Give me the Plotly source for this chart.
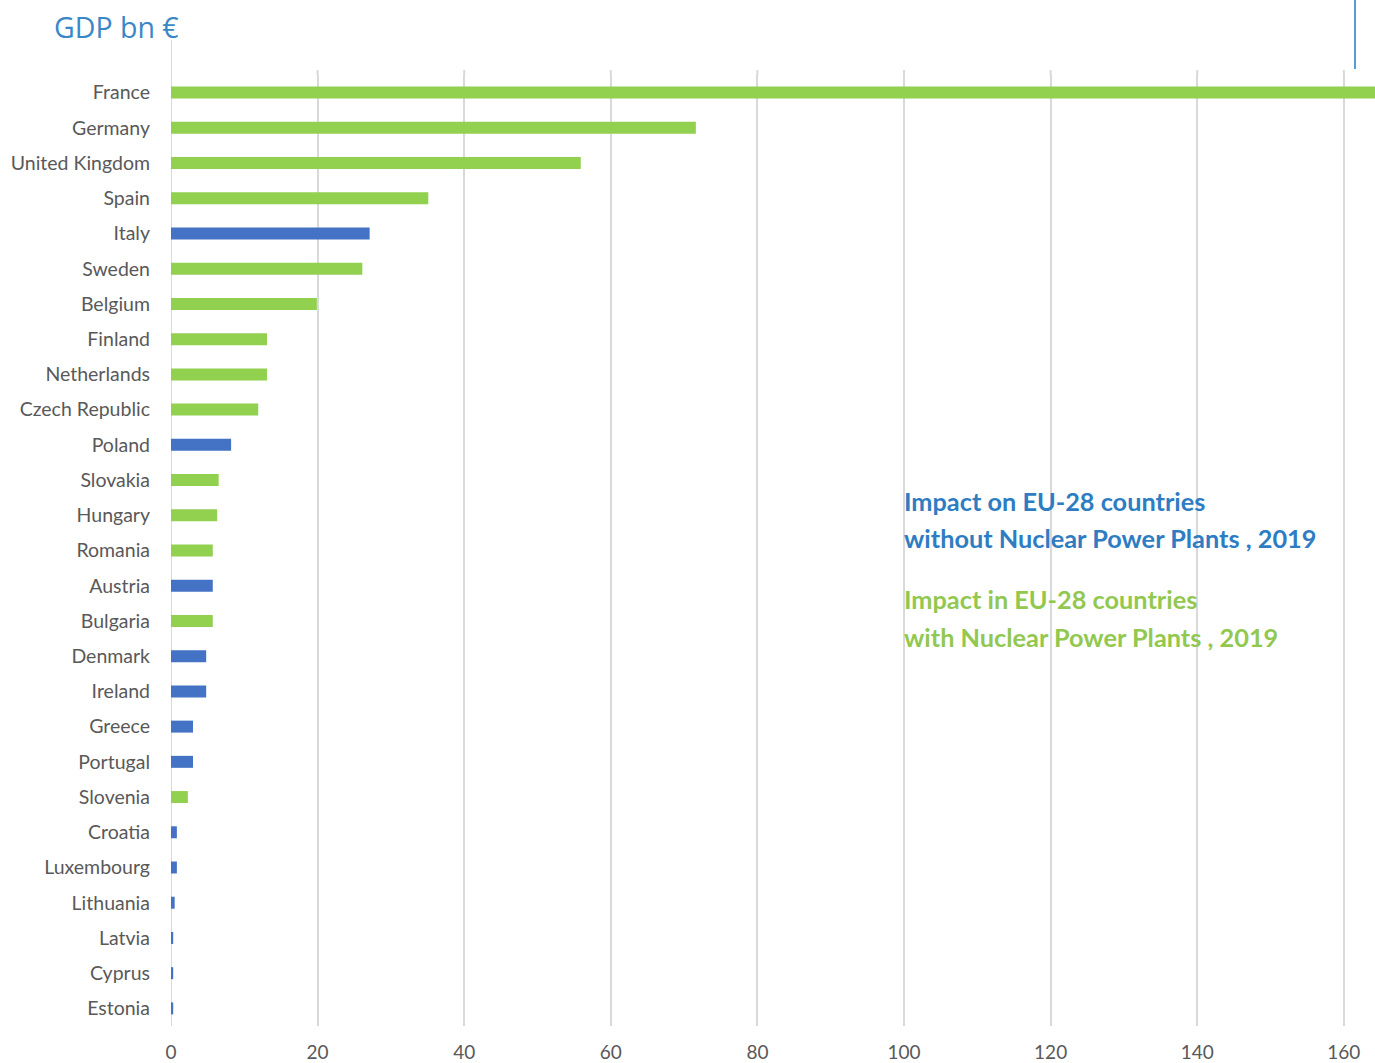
import plotly.graph_objects as go

countries = ["France", "Germany", "United Kingdom", "Spain", "Italy", "Sweden", "Belgium",
             "Finland", "Netherlands", "Czech Republic", "Poland", "Slovakia", "Hungary",
             "Romania", "Austria", "Bulgaria", "Denmark", "Ireland", "Greece", "Portugal",
             "Slovenia", "Croatia", "Luxembourg", "Lithuania", "Latvia", "Cyprus", "Estonia"]
gdp_bn_eur = [170.0, 71.6, 55.9, 35.1, 27.1, 26.1, 19.9, 13.1, 13.1, 11.9, 8.2, 6.5, 6.3,
              5.7, 5.7, 5.7, 4.8, 4.8, 3.0, 3.0, 2.3, 0.8, 0.8, 0.5, 0.3, 0.3, 0.3]
has_nuclear = [True, True, True, True, False, True, True, True, True, True, False, True, True,
               True, False, True, False, False, False, False, True, False, False, False,
               False, False, False]
x_ticks = [0, 20, 40, 60, 80, 100, 120, 140, 160]

GREEN = "#92d050"
BLUE = "#4472c4"
colors = [GREEN if n else BLUE for n in has_nuclear]

fig = go.Figure(go.Bar(
    x=gdp_bn_eur, y=countries, orientation="h",
    marker=dict(color=colors, line=dict(width=0)),
    hoverinfo="x+y", showlegend=False,
))

W, H = 1375, 1063
PL, PT, PR, PB = 171, 75, 1375, 1026  # plot area in pixels
pw, ph = PR - PL, PB - PT


def px(sx):
    return (sx - PL) / pw


def py(sy):
    return (PB - sy) / ph


fig.update_layout(
    width=W, height=H,
    margin=dict(l=PL, r=W - PR, t=PT, b=H - PB, pad=0, autoexpand=False),
    plot_bgcolor="white", paper_bgcolor="white",
    bargap=0.66,
    font=dict(family="Lato, sans-serif", color="#595959", size=19.5),
    xaxis=dict(range=[0, 164.25], tickvals=x_ticks, showgrid=True, gridcolor="#d9d9d9",
               gridwidth=2, zeroline=False, showline=False, ticks="", automargin=False,
               ticklabelstandoff=13, tickfont=dict(size=19, color="#595959")),
    yaxis=dict(autorange="reversed", showgrid=False, zeroline=False, showline=False,
               ticks="", ticklabelstandoff=20, automargin=False,
               tickfont=dict(size=19.5, color="#595959")),
)

# gridlines extend slightly above the plot area; zero line extends further
for t in x_ticks:
    top = 40 if t == 0 else 70
    fig.add_shape(type="line", xref="x", yref="paper", x0=t, x1=t,
                  y0=0 if t == 0 else 1, y1=py(top),
                  line=dict(color="#d9d9d9", width=2), layer="below")
# decorative blue line at top right
fig.add_shape(type="line", xref="paper", yref="paper",
              x0=px(1355), x1=px(1355), y0=py(69), y1=py(0),
              line=dict(color="#5b9bd5", width=2))

fig.add_annotation(text="GDP bn €", xref="paper", yref="paper",
                   x=px(52), y=py(27), xanchor="left", yanchor="middle",
                   showarrow=False, font=dict(family="Open Sans, sans-serif", size=28.5, color="#3a87c8"))

notes = [
    ("Impact on EU-28 countries", 501, "#2e7dc3"),
    ("without Nuclear Power Plants , 2019", 538, "#2e7dc3"),
    ("Impact in EU-28 countries", 599, "#92c850"),
    ("with Nuclear Power Plants , 2019", 637, "#92c850"),
]
for txt, sy, col in notes:
    fig.add_annotation(text="<b>" + txt + "</b>", xref="x", yref="paper", x=100, y=py(sy),
                       xanchor="left", yanchor="middle", align="left", showarrow=False,
                       xshift=-2,
                       font=dict(family="Lato, sans-serif", size=25.3, color=col))

fig.write_html("out.html", config={"displayModeBar": False},
               post_script="document.body.style.margin='0';document.body.style.overflow='hidden';")
